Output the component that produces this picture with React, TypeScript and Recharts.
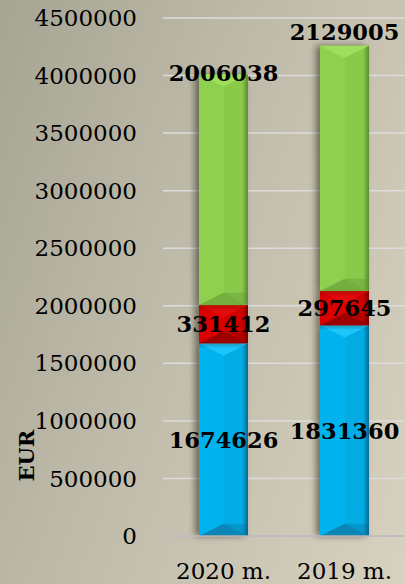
import { BarChart, Bar, XAxis, YAxis, CartesianGrid, LabelList, Label } from 'recharts';

const categories = ['2020 m.', '2019 m.'];
const blueValues = [1674626, 1831360];
const redValues = [331412, 297645];
const greenValues = [2006038, 2129005];
const yTicks = [0, 500000, 1000000, 1500000, 2000000, 2500000, 3000000, 3500000, 4000000, 4500000];

// how far the green labels sit above the top of their bar (px)
const greenLabelLift = [1, 14];

const data = categories.map((name, i) => ({
    name,
    blue: blueValues[i],
    red: redValues[i],
    green: greenValues[i],
}));

const COLORS = {
    blue: { id: 'blue', base: '#00b3ee', light: '#1cc6fb', mid: '#04ace6', dark: '#0a86b6', edge: '#05678f' },
    red: { id: 'red', base: '#dc0000', light: '#e60a0a', mid: '#cf0000', dark: '#9c0000', edge: '#7a0000' },
    green: { id: 'green', base: '#8fd14e', light: '#9edf5b', mid: '#89ca4b', dark: '#74ae3e', edge: '#5b8b30' },
};

const FONT = '"DejaVu Serif", serif';

function makeShape(c: typeof COLORS.blue) {
    return (props: any) => {
        const { x, y, width: w, height: h } = props;
        if (!h || h <= 0) return null;
        const b = Math.min(w / 4, h / 2);
        const cx = x + w / 2;
        return (
            <g>
                <rect x={x - 4} y={y} width={w} height={h} fill="rgba(30,30,20,0.55)" filter="url(#barShadow)" />
                <rect x={x} y={y} width={w} height={h} fill={`url(#side-${c.id})`} />
                <polygon points={`${x},${y} ${x + w},${y} ${cx},${y + b}`} fill={c.light} />
                <polygon points={`${x},${y + h} ${x + w},${y + h} ${cx},${y + h - b}`} fill={c.dark} />
                <polygon points={`${x + w},${y + h} ${cx},${y + h - b} ${x + w},${y + h - b}`} fill={c.edge} opacity={0.3} />
            </g>
        );
    };
}

function sideGradient(c: typeof COLORS.blue) {
    return (
        <linearGradient key={c.id} id={`side-${c.id}`} x1="0" y1="0" x2="1" y2="0">
            <stop offset="0%" stopColor={c.base} />
            <stop offset="50%" stopColor={c.base} />
            <stop offset="52%" stopColor={c.mid} />
            <stop offset="88%" stopColor={c.mid} />
            <stop offset="100%" stopColor={c.edge} />
        </linearGradient>
    );
}

const labelStyle = { fontFamily: FONT, fontWeight: 700, fontSize: 22.5, fill: '#000' };

function greenLabel(props: any) {
    const { x, y, width, value, index } = props;
    return (
        <text
            x={x + width / 2}
            y={y - greenLabelLift[index]}
            textAnchor="middle"
            dominantBaseline="central"
            style={labelStyle}
        >
            {value}
        </text>
    );
}

function EurLabel(props: any) {
    const vb = props.viewBox;
    const cx = 27;
    const cy = vb.y + vb.height * 0.845;
    return (
        <text
            x={cx}
            y={cy}
            transform={`rotate(-90, ${cx}, ${cy})`}
            textAnchor="middle"
            dominantBaseline="central"
            style={{ fontFamily: FONT, fontWeight: 700, fontSize: 21, fill: '#000' }}
        >
            EUR
        </text>
    );
}

export default function App() {
    return (
        <div
            style={{
                position: 'absolute',
                left: 0,
                top: 0,
                width: 405,
                height: 584,
                background: 'linear-gradient(110deg, #a6a493 0%, #bdb9a8 40%, #d8d1bf 100%)',
            }}
        >
            <BarChart width={405} height={584} data={data} margin={{ top: 18, right: 0, bottom: 0, left: 0 }} barSize={49}>
                <defs>
                    <filter id="barShadow" x="-50%" y="-10%" width="200%" height="120%">
                        <feGaussianBlur stdDeviation="3" />
                    </filter>
                    {sideGradient(COLORS.blue)}
                    {sideGradient(COLORS.red)}
                    {sideGradient(COLORS.green)}
                </defs>
                <CartesianGrid vertical={false} stroke="#dcdcdc" strokeWidth={1.5} />
                <XAxis
                    dataKey="name"
                    axisLine={{ stroke: '#b4b4b4', strokeWidth: 1.5 }}
                    tickLine={false}
                    tickSize={0}
                    tickMargin={27}
                    height={48}
                    tick={{ fontFamily: FONT, fontSize: 23, fill: '#000' }}
                />
                <YAxis
                    domain={[0, 4500000]}
                    ticks={yTicks}
                    interval={0}
                    width={163}
                    axisLine={false}
                    tickLine={false}
                    tickSize={0}
                    tickMargin={26}
                    tick={{ fontFamily: FONT, fontSize: 23, fill: '#000' }}
                >
                    <Label content={EurLabel} />
                </YAxis>
                <Bar dataKey="blue" stackId="a" isAnimationActive={false} shape={makeShape(COLORS.blue)}>
                    <LabelList dataKey="blue" position="center" style={labelStyle} />
                </Bar>
                <Bar dataKey="red" stackId="a" isAnimationActive={false} shape={makeShape(COLORS.red)}>
                    <LabelList dataKey="red" position="center" style={labelStyle} />
                </Bar>
                <Bar dataKey="green" stackId="a" isAnimationActive={false} shape={makeShape(COLORS.green)}>
                    <LabelList dataKey="green" content={greenLabel} />
                </Bar>
            </BarChart>
        </div>
    );
}
